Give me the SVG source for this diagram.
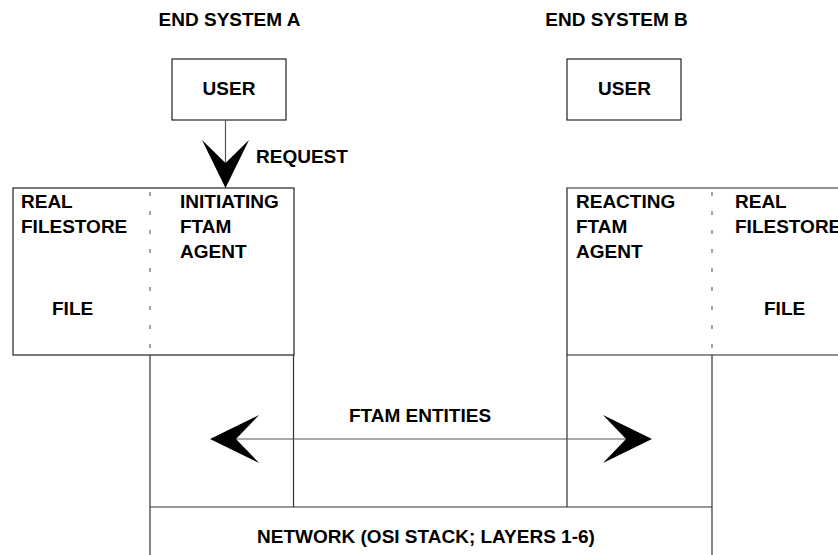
<svg xmlns="http://www.w3.org/2000/svg" width="838" height="555" viewBox="0 0 838 555">
  <style>
    text { font-family: "Liberation Sans", Arial, Helvetica, sans-serif; font-size: 19px; font-weight: bold; fill: #000; }
    .box { fill: none; stroke: #222; stroke-width: 1.2; }
    .edge { fill: none; stroke: #333; stroke-width: 1.2; }
    .thin { fill: none; stroke: #555; stroke-width: 1.2; }
    .divider { fill: none; stroke: #666; stroke-width: 1.2; stroke-dasharray: 4 15; }
    .head { fill: #000; stroke: none; }
    .mid { text-anchor: middle; }
  </style>
  <rect width="838" height="555" fill="#fff"/>

  <!-- system headings -->
  <text class="mid" x="229.5" y="26">END SYSTEM A</text>
  <text class="mid" x="616.5" y="26">END SYSTEM B</text>

  <g id="userA">
    <rect class="box" x="172" y="59" width="114" height="61"/>
    <text class="mid" x="229" y="95">USER</text>
  </g>
  <g id="userB">
    <rect class="box" x="567" y="59" width="114" height="61"/>
    <text class="mid" x="624.5" y="95">USER</text>
  </g>

  <!-- end system A: filestore + initiating agent -->
  <g id="systemA">
    <rect class="box" x="13" y="188" width="281" height="167"/>
    <line class="divider" x1="150" y1="192" x2="150" y2="355"/>
    <text x="21" y="208">REAL</text>
    <text x="21" y="233">FILESTORE</text>
    <text x="52" y="315">FILE</text>
    <text x="180" y="208">INITIATING</text>
    <text x="180" y="233">FTAM</text>
    <text x="180" y="258">AGENT</text>
  </g>

  <!-- end system B: reacting agent + filestore (runs off the right edge) -->
  <g id="systemB">
    <path class="box" d="M845 188 H567 V355 H845"/>
    <line class="divider" x1="712" y1="192" x2="712" y2="355"/>
    <text x="576" y="208">REACTING</text>
    <text x="576" y="233">FTAM</text>
    <text x="576" y="258">AGENT</text>
    <text x="735" y="208">REAL</text>
    <text x="735" y="233">FILESTORE</text>
    <text x="764" y="315">FILE</text>
  </g>

  <!-- FTAM entity columns and network layer -->
  <g id="entities">
    <line class="edge" x1="150" y1="355" x2="150" y2="555"/>
    <line class="edge" x1="293.5" y1="355" x2="293.5" y2="507"/>
    <line class="edge" x1="567" y1="355" x2="567" y2="507"/>
    <line class="edge" x1="712" y1="355" x2="712" y2="555"/>
    <text class="mid" x="420" y="422">FTAM ENTITIES</text>
  </g>
  <g id="network">
    <line class="edge" x1="150" y1="507" x2="712" y2="507"/>
    <text class="mid" x="426" y="543">NETWORK (OSI STACK; LAYERS 1-6)</text>
  </g>

  <g id="connectors">
    <!-- request from user A to initiating agent -->
    <line class="thin" x1="225.5" y1="120" x2="225.5" y2="166"/>
    <polygon class="head" points="202,140 225.5,188 249,140 225.5,163"/>
    <text x="256" y="163">REQUEST</text>
    <!-- two-way exchange between entities -->
    <line class="thin" x1="236" y1="439" x2="626" y2="439"/>
    <polygon class="head" points="210,439 259,415 236,439 259,463"/>
    <polygon class="head" points="652,439 603,415 626,439 603,463"/>
  </g>
</svg>
